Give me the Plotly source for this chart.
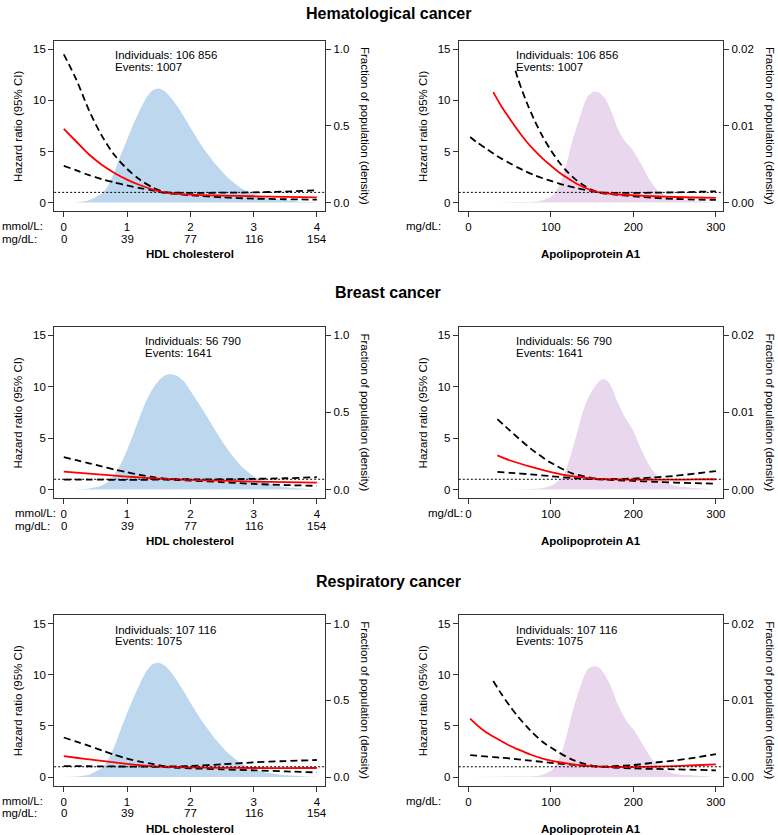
import plotly.graph_objects as go

W, H = 778, 835
FONT = "Liberation Sans, Arial, sans-serif"

# ---------------- data ----------------
cancers = ["Hematological cancer", "Breast cancer", "Respiratory cancer"]
individuals = ["106 856", "56 790", "107 116"]
events = ["1007", "1641", "1075"]

hr_ticks = [0, 5, 10, 15]
hdl_ticks = [0, 1, 2, 3, 4]
hdl_tick_labels = ["0", "1", "2", "3", "4"]
hdl_mgdl_labels = ["0", "39", "77", "116", "154"]
apo_ticks = [0, 100, 200, 300]
apo_tick_labels = ["0", "100", "200", "300"]
hdl_dens_ticks = [0, 0.5, 1.0]
hdl_dens_labels = ["0.0", "0.5", "1.0"]
apo_dens_ticks = [0, 0.01, 0.02]
apo_dens_labels = ["0.00", "0.01", "0.02"]

# HDL cholesterol (mmol/L)
hdl_x = [0, 0.2, 0.4, 0.6, 0.8, 1.0, 1.2, 1.4, 1.6, 1.8, 2.0, 2.5, 3.0, 3.5, 4.0]
heme_hdl_hr = [7.2, 5.95, 4.7, 3.7, 2.9, 2.25, 1.72, 1.3, 0.98, 0.86, 0.78, 0.69, 0.62, 0.57, 0.52]
heme_hdl_hi = [14.5, 12.0, 9.0, 6.55, 4.65, 3.3, 2.25, 1.5, 1.02, 0.97, 0.95, 0.97, 1.0, 1.08, 1.2]
heme_hdl_lo = [3.6, 3.15, 2.68, 2.3, 1.97, 1.68, 1.42, 1.19, 0.95, 0.84, 0.72, 0.52, 0.39, 0.33, 0.29]

breast_hdl_hr = [1.75, 1.65, 1.55, 1.45, 1.35, 1.26, 1.18, 1.1, 1.03, 0.98, 0.94, 0.86, 0.78, 0.72, 0.68]
breast_hdl_hi = [3.15, 2.85, 2.55, 2.25, 1.95, 1.68, 1.43, 1.22, 1.07, 1.02, 1.0, 1.0, 1.04, 1.1, 1.2]
breast_hdl_lo = [0.97, 0.97, 0.96, 0.96, 0.95, 0.95, 0.95, 0.96, 0.97, 0.92, 0.88, 0.72, 0.55, 0.44, 0.36]

resp_hdl_hr = [2.05, 1.88, 1.72, 1.57, 1.42, 1.28, 1.16, 1.07, 1.0, 0.96, 0.94, 0.9, 0.88, 0.87, 0.88]
resp_hdl_hi = [3.86, 3.45, 3.04, 2.6, 2.17, 1.8, 1.5, 1.28, 1.05, 1.04, 1.08, 1.24, 1.43, 1.56, 1.66]
resp_hdl_lo = [1.07, 1.06, 1.05, 1.04, 1.03, 1.02, 1.01, 1.0, 0.96, 0.9, 0.85, 0.75, 0.65, 0.55, 0.45]

hdl_dens_x = [0, 0.2, 0.4, 0.6, 0.7, 0.8, 0.9, 1.0, 1.1, 1.2, 1.3, 1.4, 1.5, 1.6, 1.7, 1.8,
              1.9, 2.0, 2.2, 2.4, 2.6, 2.8, 3.0, 3.2, 3.4, 3.6, 3.8, 4.0]
heme_hdl_dens = [0.0, 0.003, 0.016, 0.06, 0.11, 0.2, 0.31, 0.41, 0.51, 0.6, 0.68, 0.73, 0.743, 0.725,
                 0.68, 0.625, 0.56, 0.49, 0.36, 0.25, 0.16, 0.095, 0.055, 0.035, 0.02, 0.011, 0.005, 0.002]
breast_hdl_dens = [0.0, 0.001, 0.007, 0.026, 0.05, 0.095, 0.165, 0.255, 0.36, 0.47, 0.57, 0.65, 0.705, 0.74,
                   0.747, 0.735, 0.7, 0.64, 0.515, 0.38, 0.255, 0.155, 0.087, 0.045, 0.023, 0.011, 0.005, 0.002]
resp_hdl_dens = [0.0, 0.003, 0.015, 0.058, 0.11, 0.2, 0.31, 0.415, 0.515, 0.605, 0.685, 0.735, 0.745, 0.725,
                 0.68, 0.62, 0.555, 0.485, 0.355, 0.245, 0.155, 0.09, 0.052, 0.03, 0.017, 0.009, 0.004, 0.002]

# Apolipoprotein A1 (mg/dL)
heme_apo_hr_x = [30, 40, 50, 60, 70, 80, 90, 100, 110, 120, 130, 140, 150, 160, 175, 200, 225, 250, 275, 300]
heme_apo_hr = [10.8, 9.4, 8.2, 7.05, 6.0, 5.1, 4.3, 3.6, 2.95, 2.4, 1.9, 1.5, 1.17, 0.97, 0.84, 0.72, 0.62, 0.55, 0.5, 0.46]
heme_apo_hi_x = [57, 60, 70, 80, 90, 100, 110, 120, 130, 140, 150, 160, 175, 200, 225, 250, 275, 300]
heme_apo_hi = [12.9, 12.1, 9.9, 8.05, 6.45, 5.1, 3.95, 3.0, 2.25, 1.68, 1.22, 1.0, 0.96, 0.95, 0.97, 1.0, 1.05, 1.1]
heme_apo_lo_x = [2, 10, 20, 30, 40, 50, 60, 70, 80, 90, 100, 110, 120, 130, 140, 150, 160, 175, 200, 225, 250, 275, 300]
heme_apo_lo = [6.42, 5.9, 5.35, 4.8, 4.3, 3.85, 3.42, 3.03, 2.68, 2.38, 2.12, 1.86, 1.63, 1.44, 1.27, 1.12, 0.95,
               0.8, 0.62, 0.47, 0.36, 0.3, 0.26]

breast_apo_x = [35, 50, 75, 100, 125, 150, 165, 175, 200, 225, 250, 275, 300]
breast_apo_hr = [3.33, 2.85, 2.22, 1.7, 1.3, 1.08, 1.0, 0.98, 0.97, 0.97, 0.97, 0.98, 1.0]
breast_apo_hi = [6.85, 5.75, 4.0, 2.6, 1.6, 1.12, 1.02, 1.03, 1.07, 1.18, 1.33, 1.55, 1.79]
breast_apo_lo = [1.72, 1.63, 1.48, 1.3, 1.12, 1.02, 0.97, 0.93, 0.84, 0.76, 0.68, 0.62, 0.58]

resp_apo_x = [2, 10, 20, 30, 40, 50, 60, 75, 90, 100, 110, 125, 140, 150, 160, 175, 200, 225, 250, 275, 300]
resp_apo_hr = [5.71, 5.1, 4.45, 3.95, 3.5, 3.05, 2.7, 2.2, 1.8, 1.6, 1.44, 1.25, 1.12, 1.06, 1.01, 0.98, 0.97,
               1.0, 1.07, 1.15, 1.23]
resp_apo_lo = [2.14, 2.08, 2.02, 1.95, 1.88, 1.81, 1.72, 1.6, 1.47, 1.38, 1.3, 1.2, 1.1, 1.05, 1.0, 0.93, 0.84,
               0.79, 0.75, 0.7, 0.65]
resp_apo_hi_x = [30, 40, 50, 60, 75, 90, 100, 110, 125, 140, 150, 160, 175, 200, 225, 250, 275, 300]
resp_apo_hi = [9.38, 8.1, 6.95, 5.9, 4.55, 3.42, 2.88, 2.38, 1.72, 1.3, 1.12, 1.02, 1.05, 1.17, 1.4, 1.62, 1.9, 2.24]

apo_dens_x = [0, 50, 80, 90, 100, 105, 110, 115, 120, 125, 130, 135, 140, 145, 150, 155, 160, 165, 170, 175,
              180, 185, 190, 195, 200, 210, 220, 230, 240, 250, 275, 300]
heme_apo_dens = [0.0, 0.00005, 0.0001, 0.0003, 0.0008, 0.0013, 0.0022, 0.0036, 0.0055, 0.0077, 0.0095, 0.0111,
                 0.0128, 0.0139, 0.0144, 0.01445, 0.0142, 0.0137, 0.0127, 0.0114, 0.0099, 0.0088, 0.008, 0.0074,
                 0.0067, 0.0049, 0.0029, 0.0015, 0.0009, 0.0005, 0.0002, 0.0]
resp_apo_dens = [0.0, 0.00005, 0.0001, 0.0003, 0.0008, 0.0014, 0.0024, 0.0038, 0.0058, 0.008, 0.0099, 0.0116,
                 0.0131, 0.0141, 0.0144, 0.01442, 0.0141, 0.0134, 0.0124, 0.0112, 0.0097, 0.0086, 0.0076, 0.0068,
                 0.0062, 0.0045, 0.0027, 0.0014, 0.0008, 0.0004, 0.0002, 0.0]
breast_apo_dens_x = [35, 60, 80, 90, 100, 105, 110, 115, 120, 125, 130, 135, 140, 145, 150, 155, 160, 165, 170,
                     175, 180, 185, 190, 195, 200, 210, 220, 230, 240, 250, 275, 300]
breast_apo_dens = [0.0, 0.00003, 0.0001, 0.0002, 0.0005, 0.0008, 0.0012, 0.0017, 0.0031, 0.0048, 0.0067, 0.0087,
                   0.0105, 0.0119, 0.0128, 0.0136, 0.0142, 0.0143, 0.0139, 0.0129, 0.0115, 0.0104, 0.0093, 0.0085,
                   0.0076, 0.0051, 0.003, 0.0016, 0.0009, 0.0005, 0.0002, 0.0]

# ---------------- layout geometry (pixels) ----------------
ROW_PX = [(40.7, 211.3), (326.7, 498.3), (615.0, 785.7)]
COL_PX = [(54.3, 326.0), (460.0, 725.0)]
TITLE_Y = [13.5, 292.5, 581.0]
TICK1_Y = [226.0, 513.0, 801.0]
TICK2_Y = [238.7, 526.0, 813.3]
XTITLE_Y = [254.5, 540.5, 828.5]
UNIT_LEFT_X = [0.0, 13.3, 0.0]
UNIT_RIGHT_X = [405.0, 427.3, 405.0]
TEXT_X_HDL = [0.78, 1.25, 0.78]
TEXT_X_APO = [55.7, 55.7, 55.7]

HR_RANGE = [-0.85, 15.83]
HDL_RANGE = [-0.152, 4.131]
APO_RANGE = [-11.75, 308.8]

BLUE = "rgb(189,215,238)"
PURPLE = "rgb(233,215,237)"
LINE_C = "#333333"
DASH = "7px,4px"


def px_x(px):
    return px / W


def px_y(py):
    return 1 - py / H


panels = [
    (0, 0, hdl_x, heme_hdl_hr, hdl_x, heme_hdl_lo, hdl_x, heme_hdl_hi, hdl_dens_x, heme_hdl_dens),
    (0, 1, heme_apo_hr_x, heme_apo_hr, heme_apo_lo_x, heme_apo_lo, heme_apo_hi_x, heme_apo_hi, apo_dens_x, heme_apo_dens),
    (1, 0, hdl_x, breast_hdl_hr, hdl_x, breast_hdl_lo, hdl_x, breast_hdl_hi, hdl_dens_x, breast_hdl_dens),
    (1, 1, breast_apo_x, breast_apo_hr, breast_apo_x, breast_apo_lo, breast_apo_x, breast_apo_hi, breast_apo_dens_x, breast_apo_dens),
    (2, 0, hdl_x, resp_hdl_hr, hdl_x, resp_hdl_lo, hdl_x, resp_hdl_hi, hdl_dens_x, resp_hdl_dens),
    (2, 1, resp_apo_x, resp_apo_hr, resp_apo_x, resp_apo_lo, resp_apo_hi_x, resp_apo_hi, apo_dens_x, resp_apo_dens),
]

fig = go.Figure()
layout = dict(width=W, height=H, margin=dict(l=0, r=0, t=0, b=0),
              paper_bgcolor="white", plot_bgcolor="white", showlegend=False,
              font=dict(family=FONT, size=11.5, color="black"))
annotations = []
shapes = []


def nm(prefix, n):
    return prefix if n == 1 else f"{prefix}{n}"


for k, (r, c, xr, yr, xl, yl, xh, yh, xd, yd) in enumerate(panels, start=1):
    is_hdl = c == 0
    xn = nm("x", k)
    yd_n = nm("y", 2 * k - 1)
    yh_n = nm("y", 2 * k)
    top, bot = ROW_PX[r]
    left, right = COL_PX[c]
    dens_scale = 1.0 / 15 if is_hdl else 0.02 / 15

    # density (base subplot, drawn below)
    fig.add_trace(go.Scatter(x=xd, y=yd, mode="lines", fill="tozeroy",
                             fillcolor=BLUE if is_hdl else PURPLE,
                             line=dict(width=0, color=BLUE if is_hdl else PURPLE, shape="spline", smoothing=0.6),
                             xaxis=xn, yaxis=yd_n, hoverinfo="skip"))
    # hazard ratio curves (overlay subplot)
    for xs, ys, col, dash in [(xl, yl, "black", DASH), (xh, yh, "black", DASH), (xr, yr, "red", "solid")]:
        fig.add_trace(go.Scatter(x=xs, y=ys, mode="lines",
                                 line=dict(color=col, width=1.8, dash=dash, shape="spline", smoothing=0.8),
                                 xaxis=xn, yaxis=yh_n, hoverinfo="skip"))

    layout[nm("xaxis", k)] = dict(
        domain=[px_x(left), px_x(right)], anchor=yd_n,
        range=HDL_RANGE if is_hdl else APO_RANGE,
        tickmode="array", tickvals=hdl_ticks if is_hdl else apo_ticks,
        ticktext=hdl_tick_labels if is_hdl else apo_tick_labels,
        ticks="outside", ticklen=5, tickwidth=1, tickcolor=LINE_C,
        showline=True, mirror=True, linecolor=LINE_C, linewidth=1,
        showgrid=False, zeroline=False, tickfont=dict(size=11.5, color="black"))
    layout[nm("yaxis", 2 * k - 1)] = dict(
        domain=[px_y(bot), px_y(top)], anchor=xn, side="right",
        range=[HR_RANGE[0] * dens_scale, HR_RANGE[1] * dens_scale],
        tickmode="array", tickvals=hdl_dens_ticks if is_hdl else apo_dens_ticks,
        ticktext=hdl_dens_labels if is_hdl else apo_dens_labels,
        ticks="outside", ticklen=5, tickwidth=1, tickcolor=LINE_C,
        showline=True, mirror=True, linecolor=LINE_C, linewidth=1,
        showgrid=False, zeroline=False, tickfont=dict(size=11.5, color="black"))
    layout[nm("yaxis", 2 * k)] = dict(
        overlaying=yd_n, anchor=xn, side="left", range=HR_RANGE,
        tickmode="array", tickvals=hr_ticks,
        ticks="outside", ticklen=5, tickwidth=1, tickcolor=LINE_C,
        showline=False, showgrid=False, zeroline=False,
        tickfont=dict(size=11.5, color="black"))

    # reference line HR = 1
    shapes.append(dict(type="line", xref=f"{xn} domain", x0=0, x1=1, yref=yh_n, y0=1, y1=1,
                       line=dict(color="black", width=1, dash="2px,2px"), layer="above"))

    # individuals / events text
    tx = TEXT_X_HDL[r] if is_hdl else TEXT_X_APO[r]
    annotations.append(dict(xref=xn, yref=yh_n, x=tx, y=14.4, xanchor="left", yanchor="middle",
                            text=f"Individuals: {individuals[r]}", showarrow=False, font=dict(size=11.5)))
    annotations.append(dict(xref=xn, yref=yh_n, x=tx, y=13.3, xanchor="left", yanchor="middle",
                            text=f"Events: {events[r]}", showarrow=False, font=dict(size=11.5)))

    # axis titles
    cy = px_y((top + bot) / 2)
    annotations.append(dict(xref="paper", yref="paper", x=px_x(18 if is_hdl else 424), y=cy,
                            text="Hazard ratio (95% CI)", textangle=-90, showarrow=False,
                            xanchor="center", yanchor="middle", font=dict(size=11.5)))
    annotations.append(dict(xref="paper", yref="paper", x=px_x(366 if is_hdl else 772), y=cy,
                            text="Fraction of population (density)", textangle=90, showarrow=False,
                            xanchor="center", yanchor="middle", font=dict(size=11.5)))
    annotations.append(dict(xref="paper", yref="paper", x=px_x((left + right) / 2), y=px_y(XTITLE_Y[r]),
                            text="<b>HDL cholesterol</b>" if is_hdl else "<b>Apolipoprotein A1</b>",
                            showarrow=False, xanchor="center", yanchor="middle", font=dict(size=11.5)))

    if is_hdl:
        annotations.append(dict(xref="paper", yref="paper", x=px_x(UNIT_LEFT_X[r]), y=px_y(TICK1_Y[r]),
                                text="mmol/L:", showarrow=False, xanchor="left", yanchor="middle",
                                font=dict(size=11.5)))
        annotations.append(dict(xref="paper", yref="paper", x=px_x(UNIT_LEFT_X[r]), y=px_y(TICK2_Y[r]),
                                text="mg/dL:", showarrow=False, xanchor="left", yanchor="middle",
                                font=dict(size=11.5)))
        for tv, tl in zip(hdl_ticks, hdl_mgdl_labels):
            annotations.append(dict(xref=xn, yref="paper", x=tv, y=px_y(TICK2_Y[r]), text=tl,
                                    showarrow=False, xanchor="center", yanchor="middle",
                                    font=dict(size=11.5)))
    else:
        annotations.append(dict(xref="paper", yref="paper", x=px_x(UNIT_RIGHT_X[r]), y=px_y(TICK1_Y[r]),
                                text="mg/dL:", showarrow=False, xanchor="left", yanchor="middle",
                                font=dict(size=11.5)))

for r in range(3):
    annotations.append(dict(xref="paper", yref="paper", x=px_x(389), y=px_y(TITLE_Y[r]),
                            text=f"<b>{cancers[r]}</b>", showarrow=False, xanchor="center",
                            yanchor="middle", font=dict(size=16)))

layout["annotations"] = annotations
layout["shapes"] = shapes
fig.update_layout(**layout)
fig.write_html("out.html", config={"displayModeBar": False},
               post_script="document.body.style.margin='0px';document.body.style.overflow='hidden';")
